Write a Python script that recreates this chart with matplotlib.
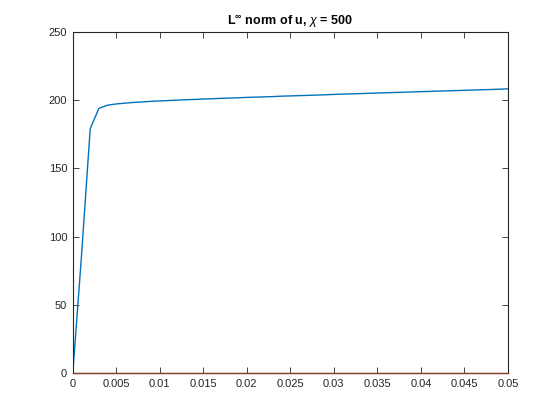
import matplotlib
matplotlib.use("Agg")
import matplotlib.pyplot as plt

plt.rcParams['font.family'] = ['Liberation Sans', 'DejaVu Sans']
plt.rcParams['mathtext.fontset'] = 'custom'
plt.rcParams['mathtext.rm'] = 'Liberation Sans'
plt.rcParams['mathtext.it'] = 'Liberation Sans:italic'
plt.rcParams['mathtext.bf'] = 'Liberation Sans:bold'

t = [0.000, 0.001, 0.002, 0.003, 0.004, 0.005, 0.006, 0.007, 0.008, 0.009,
     0.010, 0.011, 0.012, 0.013, 0.014, 0.015, 0.016, 0.017, 0.018, 0.019,
     0.020, 0.021, 0.022, 0.023, 0.024, 0.025, 0.026, 0.027, 0.028, 0.029,
     0.030, 0.031, 0.032, 0.033, 0.034, 0.035, 0.036, 0.037, 0.038, 0.039,
     0.040, 0.041, 0.042, 0.043, 0.044, 0.045, 0.046, 0.047, 0.048, 0.049,
     0.050]
u_inf = [0, 86, 179, 194, 196.3, 197.2, 197.8, 198.3, 198.7, 199.1,
         199.4, 199.7, 200.0, 200.3, 200.5, 200.8, 201.0, 201.3, 201.5, 201.7,
         202.0, 202.2, 202.4, 202.6, 202.9, 203.1, 203.3, 203.5, 203.7, 203.9,
         204.2, 204.4, 204.6, 204.8, 205.0, 205.2, 205.4, 205.6, 205.8, 206.0,
         206.2, 206.4, 206.6, 206.8, 207.0, 207.2, 207.4, 207.6, 207.8, 208.0,
         208.3]
zero_x = [0.0, 0.05]
zero_y = [0.0, 0.0]

xticks = [0, 0.005, 0.01, 0.015, 0.02, 0.025, 0.03, 0.035, 0.04, 0.045, 0.05]
xticklabels = ['0', '0.005', '0.01', '0.015', '0.02', '0.025', '0.03', '0.035', '0.04', '0.045', '0.05']
yticks = [0, 50, 100, 150, 200, 250]

fig = plt.figure(figsize=(5.6, 4.2), dpi=100)
ax = fig.add_axes([0.13, 0.112, 0.777, 0.812])
ax.plot(t, u_inf, color='#0072BD', lw=1.0)
ax.plot(zero_x, zero_y, color='#8E3B2B', lw=1.0, clip_on=False, zorder=5)
ax.set_xlim(0, 0.05)
ax.set_ylim(0, 250)
ax.set_xticks(xticks)
ax.set_xticklabels(xticklabels)
ax.set_yticks(yticks)
ax.tick_params(direction='in', length=4, width=0.6, labelsize=8, colors='#262626',
               top=True, right=True, pad=4)
for s in ax.spines.values():
    s.set_linewidth(0.8)
    s.set_color('#262626')
ax.set_title(r'L$^{\mathbf{\infty}}$ norm of u, $\chi$ = 500', fontsize=9,
             fontweight='bold', pad=5)
fig.savefig('out.png', dpi=100)
